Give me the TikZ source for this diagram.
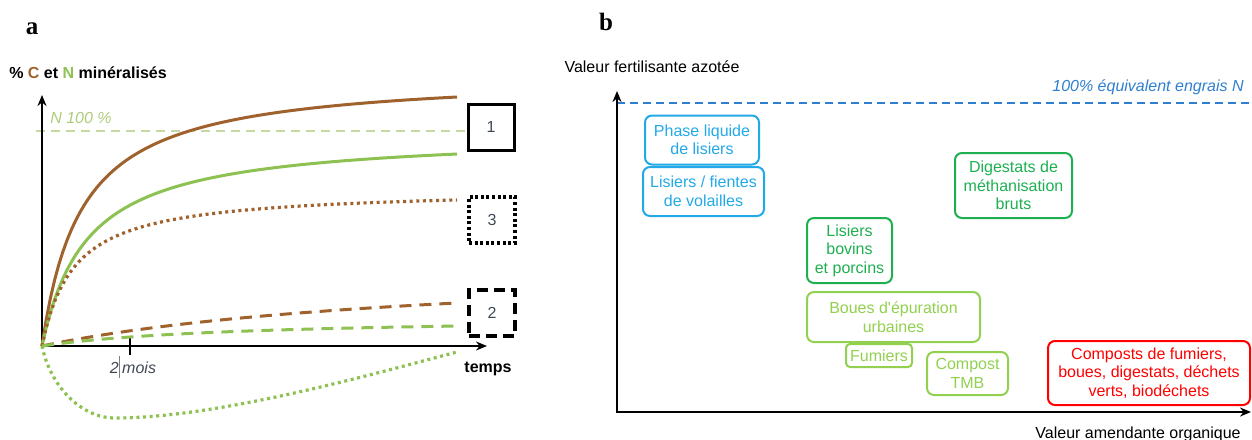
\documentclass[tikz,border=0pt]{standalone}
\usepackage{fontspec}
\setmainfont{Liberation Sans}
\newfontfamily\serifbf{Liberation Serif}
\usetikzlibrary{arrows.meta}
\definecolor{brun}{HTML}{A0622D}
\definecolor{vert}{HTML}{8DC152}
\definecolor{vertclair}{HTML}{92D050}
\definecolor{vertfonce}{HTML}{1DAF50}
\definecolor{bleu}{HTML}{22A9E8}
\definecolor{bleutrait}{HTML}{2F7FD0}
\definecolor{rouge}{HTML}{FF0000}
\definecolor{nligne}{HTML}{C5DAA0}
\definecolor{ntexte}{HTML}{AFCB7A}
\definecolor{gris}{HTML}{3F4856}

\begin{document}
\begin{tikzpicture}[x=1pt,y=-1pt,
  txt/.style={font=\fontsize{16}{18}\selectfont, inner sep=0pt},
  lbl/.style={font=\serifbf\bfseries\fontsize{25}{25}\selectfont, inner sep=0pt},
  axe/.style={line width=2.4pt, {Stealth[length=11pt,width=9pt]}-{Stealth[length=11pt,width=9pt]}},
  courbe/.style={line width=3pt},
  pointille/.style={line width=3.2pt, dash pattern=on 3pt off 3.6pt},
  tirete/.style={line width=3pt, dash pattern=on 12pt off 8pt},
  cadre/.style={draw, line width=3pt, minimum size=46pt, inner sep=0pt, font=\fontsize{16}{18}\selectfont, text=gris},
  boite/.style={draw, rounded corners=7pt, line width=2pt, align=center, inner sep=0pt, font=\fontsize{16}{18.5}\selectfont}]

  \useasboundingbox (0,0) rectangle (1252,439);

  \node[lbl] (lbla) at (32,29) {a};
  \node[lbl] (lblb) at (606,22) {b};

  \node[txt, font=\bfseries\fontsize{16}{18}\selectfont] (ya-txt) at (88,73) {\% \textcolor{brun}{C} et \textcolor{vert}{N} minéralisés};
  \node[txt, font=\bfseries\fontsize{16}{18}\selectfont] (xa-txt) at (488,369) {temps};
  \node[txt, font=\itshape\fontsize{16}{18}\selectfont, text=ntexte] (n100) at (81,118) {N 100 \%};
  \node[txt, text=gris] (mois) at (133,367) {\textit{2}{\color{gray}\rule[-5pt]{0.7pt}{22pt}}\,\textit{mois}};

  \coordinate (oa) at (42,346);
  \coordinate (ya) at (42,95);
  \coordinate (xa) at (487,346);
  \coordinate (tick) at (130,346);
  \coordinate (n0) at (36,131);

  \node[cadre] (b1) at (491,127) {1};
  \node[cadre, line width=3.2pt, dash pattern=on 3pt off 2.6pt] (b3) at (492,220) {3};
  \node[cadre, line width=3.5pt, dash pattern=on 11pt off 6pt] (b2) at (492,313) {2};

  \draw[nligne, line width=1.5pt, dash pattern=on 9pt off 6pt] (n0) -- (n0 -| b1.west);
  \draw[axe] (ya) -- (oa) -- (xa);
  \draw[line width=2pt] ([yshift=-9pt]tick) -- ([yshift=8pt]tick);

  \draw[courbe, brun] plot[domain=0:415, samples=100] ({42+\x}, {346-272.7*(\x/(\x+39.5))});
  \draw[courbe, vert] plot[domain=0:415, samples=100] ({42+\x}, {346-212.8*(\x/(\x+45))});
  \draw[pointille, brun] plot[domain=0:415, samples=100] ({42+\x}, {346-157.3*(\x/(\x+32))});
  \draw[tirete, brun] plot[domain=0:415, samples=60] ({42+\x}, {346-85*(\x/(\x+405))});
  \draw[tirete, vert] plot[domain=0:415, samples=60] ({42+\x}, {346-29.7*(\x/(\x+202))});
  \draw[pointille, vert] (oa) .. controls (50,385) and (80,418) .. (115,418) .. controls (220,418) and (380,372) .. (457,352);

  \node[txt] (yb-txt) at (652,67) {Valeur fertilisante azotée};
  \node[txt, anchor=base] (xb-txt) at (1138,438) {Valeur amendante organique};
  \node[txt, font=\itshape\fontsize{16}{18}\selectfont, text=bleutrait] (engrais) at (1148,87) {100\% équivalent engrais N};

  \coordinate (ob) at (617,412);
  \coordinate (yb) at (617,91);
  \coordinate (xb) at (1251,412);
  \coordinate (e0) at (617,103);
  \coordinate (e1) at (1249,103);

  \draw[bleutrait, line width=1.5pt, dash pattern=on 8pt off 5pt] (e0) -- (e1);
  \draw[axe, line width=2pt] (yb) -- (ob) -- (xb);

  \node[boite, bleu, minimum width=114pt, minimum height=49pt] (phase) at (702,140) {Phase liquide\\de lisiers};
  \node[boite, bleu, minimum width=121pt, minimum height=49pt] (fientes) at (703.5,191.5) {Lisiers / fientes\\de volailles};
  \node[boite, vertfonce, minimum width=85pt, minimum height=65pt] (bovins) at (849.5,250.5) {Lisiers\\bovins\\et porcins};
  \node[boite, vertfonce, minimum width=117pt, minimum height=65pt] (digestats) at (1013.5,185.5) {Digestats de\\méthanisation\\bruts};
  \node[boite, vertclair, minimum width=173pt, minimum height=50pt] (boues) at (893.5,317) {Boues d\textquotesingle épuration\\urbaines};
  \node[boite, vertclair, rounded corners=4pt, minimum width=66pt, minimum height=23pt] (fumiers) at (879,355.5) {Fumiers};
  \node[boite, vertclair, minimum width=81pt, minimum height=43pt] (compost) at (967.5,373.5) {Compost\\TMB};
  \node[boite, rouge, minimum width=202pt, minimum height=64pt] (composts) at (1149,373) {Composts de fumiers,\\boues, digestats, déchets\\verts, biodéchets};
\end{tikzpicture}
\end{document}
